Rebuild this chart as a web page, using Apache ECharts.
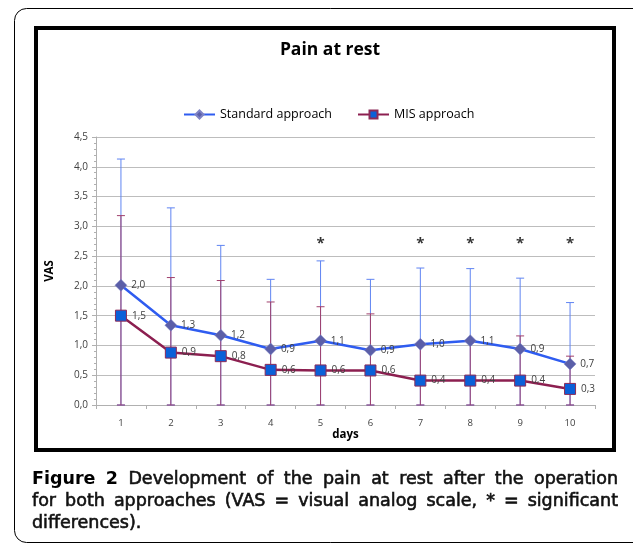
<!DOCTYPE html>
<html>
<head>
<meta charset="utf-8">
<script src="https://cdn.jsdelivr.net/npm/echarts@6/dist/echarts.min.js"></script>
<style>
html,body{margin:0;padding:0;background:#fff;}
#chart{width:633px;height:544px;}
</style>
</head>
<body>
<div id="chart"></div>
<script>
const days = ['1','2','3','4','5','6','7','8','9','10'];
const standardMean  = [2.01, 1.34, 1.17, 0.94, 1.08, 0.92, 1.02, 1.08, 0.94, 0.69];
const standardUpper = [4.13, 3.31, 2.68, 2.11, 2.42, 2.11, 2.30, 2.29, 2.13, 1.72];
const standardLower = [0, 0, 0, 0, 0, 0, 0, 0, 0, 0];
const misMean  = [1.50, 0.88, 0.82, 0.59, 0.58, 0.58, 0.41, 0.41, 0.41, 0.27];
const misUpper = [3.18, 2.14, 2.09, 1.73, 1.65, 1.53, 1.00, 1.06, 1.16, 0.82];
const misLower = [0, 0, 0, 0, 0, 0, 0, 0, 0, 0];
const significantDays = ['5','7','8','9','10'];
const asteriskLevel = 2.7;
const yTicks = [0, 0.5, 1, 1.5, 2, 2.5, 3, 3.5, 4, 4.5];

const captionBold = 'Figure 2';
const captionLines = [
  'Development of the pain at rest after the operation',
  'for both approaches (VAS = visual analog scale, * = significant',
  'differences).'
];

const FONT = '"Open Sans", "DejaVu Sans", sans-serif';
const CAP_FONT = '"DejaVu Sans", sans-serif';
const fmt = v => v.toFixed(1).replace('.', ',');

// caption layout (justified lines, like the reference)
const mctx = document.createElement('canvas').getContext('2d');
function tw(font, s) { mctx.font = font; return mctx.measureText(s).width; }
const capLeft = 32, capRight = 618, capSize = 17.5;
const capBottoms = [488, 510, 532];
const boldFont = 'bold ' + capSize + 'px ' + CAP_FONT;
const normFont = capSize + 'px ' + CAP_FONT;
const captionGraphics = [];
function layoutLine(tokens, lineIdx, justify) {
  const widths = tokens.map(t => tw(t.bold ? boldFont : normFont, t.text));
  const total = widths.reduce((a, b) => a + b, 0);
  const gap = justify ? (capRight - capLeft - total) / (tokens.length - 1) : tw(normFont, ' ');
  let x = capLeft;
  tokens.forEach((t, i) => {
    captionGraphics.push({
      type: 'text', silent: true, x: x, y: capBottoms[lineIdx],
      style: t.bold
        ? { text: t.text, font: boldFont, fill: '#000', verticalAlign: 'bottom' }
        : { text: t.text, font: normFont, fill: '#111', stroke: '#111', lineWidth: 0.6, verticalAlign: 'bottom' }
    });
    x += widths[i] + gap;
  });
}
layoutLine(captionBold.split(' ').map(s => ({ text: s, bold: true }))
  .concat(captionLines[0].split(' ').map(s => ({ text: s, bold: false }))), 0, true);
layoutLine(captionLines[1].split(' ').map(s => ({ text: s, bold: false })), 1, true);
layoutLine(captionLines[2].split(' ').map(s => ({ text: s, bold: false })), 2, false);

function errorBars(lower, upper, color) {
  return {
    type: 'custom',
    silent: true,
    z: 1,
    data: days.map((d, i) => [i, lower[i], upper[i]]),
    renderItem: function (params, api) {
      const x = api.value(0);
      const lo = api.coord([x, api.value(1)]);
      const hi = api.coord([x, api.value(2)]);
      const w = 4;
      const st = { stroke: color, lineWidth: 1 };
      return {
        type: 'group',
        children: [
          { type: 'line', shape: { x1: lo[0], y1: lo[1], x2: hi[0], y2: hi[1] }, style: st },
          { type: 'line', shape: { x1: hi[0] - w, y1: hi[1], x2: hi[0] + w, y2: hi[1] }, style: st },
          { type: 'line', shape: { x1: lo[0] - w, y1: lo[1], x2: lo[0] + w, y2: lo[1] }, style: st }
        ]
      };
    }
  };
}

const legendText = { fontFamily: FONT, fontSize: 12.5, color: '#000' };

const chart = echarts.init(document.getElementById('chart'), null, { renderer: 'canvas' });
chart.setOption({
  animation: false,
  backgroundColor: '#ffffff',
  textStyle: { fontFamily: FONT },
  title: {
    text: 'Pain at rest',
    left: 325, top: 36, textAlign: 'center',
    textStyle: { fontFamily: FONT, fontSize: 17.5, fontWeight: 'bold', color: '#000' }
  },
  legend: [
    { data: ['Standard approach'], left: 178, top: 103, itemWidth: 31, itemHeight: 10, itemGap: 0, textStyle: legendText },
    { data: ['MIS approach'], left: 352, top: 103, itemWidth: 31, itemHeight: 10, itemGap: 0, textStyle: legendText }
  ],
  grid: { left: 96, right: 38, top: 137, bottom: 139, containLabel: false },
  xAxis: {
    type: 'category',
    data: days,
    boundaryGap: true,
    name: 'days', nameLocation: 'middle', nameGap: 24,
    nameTextStyle: { fontFamily: FONT, fontSize: 11.5, fontWeight: 'bold', color: '#000' },
    axisLine: { lineStyle: { color: '#b0b0b0', width: 1 } },
    axisTick: { show: true, length: 4, lineStyle: { color: '#b0b0b0' } },
    axisLabel: { fontFamily: FONT, fontSize: 9.5, color: '#404040', margin: 13 }
  },
  yAxis: {
    type: 'value',
    min: 0, max: 4.5, interval: 0.5,
    name: 'VAS', nameLocation: 'middle', nameGap: 40, nameRotate: 90,
    nameTextStyle: { fontFamily: FONT, fontSize: 11.5, fontWeight: 'bold', color: '#000' },
    axisLine: { show: true, lineStyle: { color: '#b0b0b0', width: 1 } },
    axisTick: { show: true, length: 4, lineStyle: { color: '#b0b0b0' } },
    minorTick: { show: true, splitNumber: 5, length: 2, lineStyle: { color: '#b0b0b0' } },
    splitLine: { show: true, lineStyle: { color: '#bdbdbd', width: 1 } },
    axisLabel: {
      fontFamily: FONT, fontSize: 10, color: '#404040', margin: 8,
      formatter: v => yTicks.indexOf(v) >= 0 ? fmt(v) : ''
    }
  },
  series: [
    errorBars(standardLower, standardUpper, '#5f84f2'),
    errorBars(misLower, misUpper, '#a0406c'),
    {
      name: 'Standard approach',
      type: 'line',
      z: 3,
      data: standardMean,
      symbol: 'diamond', symbolSize: 12,
      lineStyle: { color: '#2f5cf0', width: 2.5 },
      itemStyle: { color: '#5b5fa8', borderColor: '#7f83c4', borderWidth: 0.5 },
      label: {
        show: true, position: 'right', distance: 4,
        fontFamily: FONT, fontSize: 10, color: '#404040',
        formatter: p => fmt(p.value)
      }
    },
    {
      name: 'MIS approach',
      type: 'line',
      z: 3,
      data: misMean,
      symbol: 'rect', symbolSize: 11,
      lineStyle: { color: '#8c1f50', width: 2.5 },
      itemStyle: { color: '#0b60d8', borderColor: '#8c2a58', borderWidth: 1 },
      label: {
        show: true, position: 'right', distance: 5,
        fontFamily: FONT, fontSize: 10, color: '#404040',
        formatter: p => fmt(p.value)
      }
    },
    {
      name: 'significance',
      type: 'scatter',
      z: 4,
      silent: true,
      symbolSize: 0,
      data: significantDays.map(d => [d, asteriskLevel]),
      label: {
        show: true, position: 'inside',
        fontFamily: FONT, fontSize: 15, fontWeight: 'bold', color: '#000',
        formatter: '*'
      }
    }
  ],
  graphic: [
    {
      type: 'rect', silent: true, z: -1,
      shape: { x: 14.5, y: 8.5, width: 640, height: 534, r: 12 },
      style: { fill: 'none', stroke: '#000', lineWidth: 1 }
    },
    {
      type: 'rect', silent: true,
      shape: { x: 36, y: 28, width: 578, height: 422 },
      style: { fill: 'none', stroke: '#000', lineWidth: 4 }
    }
  ].concat(captionGraphics)
});
</script>
</body>
</html>
